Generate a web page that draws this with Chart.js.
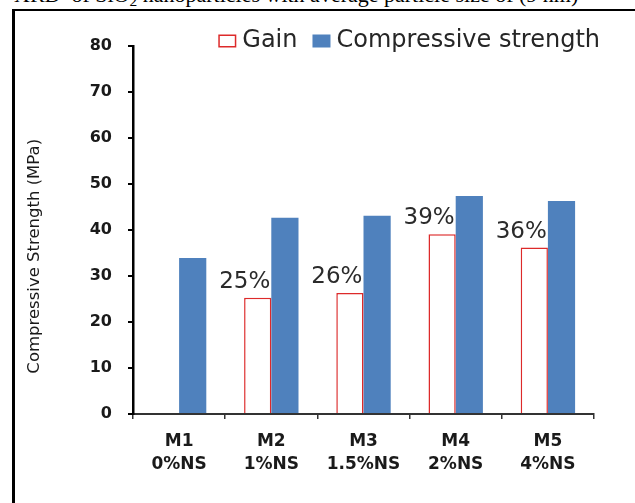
<!DOCTYPE html>
<html>
<head>
<meta charset="utf-8">
<script src="https://cdn.jsdelivr.net/npm/chart.js@4.4.1/dist/chart.umd.min.js"></script>
<style>
  html, body { margin: 0; padding: 0; background: #fff; width: 635px; height: 503px; overflow: hidden; }
  .caption { position: absolute; left: 14px; top: -16px; font: 22px/22px "Liberation Serif", serif; color: #000; white-space: nowrap; }
  .caption .sub { font-size: 0.7em; vertical-align: -0.25em; }
  .frame { position: absolute; left: 12px; top: 9px; width: 700px; height: 600px; border-left: 3px solid #000; border-top: 2px solid #000; }
  #chart { position: absolute; left: 0; top: 0; }
</style>
</head>
<body>
<div class="caption">XRD&nbsp; of SiO<span class="sub">2</span> nanoparticles with average particle size of (9 nm)</div>
<div class="frame"></div>
<canvas id="chart" width="635" height="503"></canvas>
<script>
// values
const categories = [['M1', '0%NS'], ['M2', '1%NS'], ['M3', '1.5%NS'], ['M4', '2%NS'], ['M5', '4%NS']];
const gainPercent = [null, 25.3, 26.3, 39.1, 36.2];
const compressiveStrength = [33.9, 42.7, 43.1, 47.4, 46.3];
const yTicks = [0, 10, 20, 30, 40, 50, 60, 70, 80];

Chart.defaults.font.family = '"DejaVu Sans", sans-serif';

// percent labels over the gain bars, sitting a bit to the left like the original
const gainLabels = {
    id: 'gainLabels',
    afterDatasetsDraw(chart) {
        const ctx = chart.ctx;
        const meta = chart.getDatasetMeta(0);
        ctx.save();
        ctx.font = '23px "DejaVu Sans"';
        ctx.fillStyle = '#2b2b2b';
        ctx.textAlign = 'center';
        ctx.textBaseline = 'middle';
        meta.data.forEach((bar, i) => {
            const v = gainPercent[i];
            if (v == null) return;
            ctx.fillText(Math.round(v) + '%', bar.x - 13, bar.y - 16);
        });
        ctx.restore();
    }
};

// legend drawn inside the plot, top right (built-in one can't overlap the plot area)
const plotLegend = {
    id: 'plotLegend',
    afterDraw(chart) {
        const { ctx, chartArea } = chart;
        const items = chart.data.datasets;
        const boxW = 18, boxH = 13, gap = 6, space = 15;
        ctx.save();
        ctx.font = '24px "DejaVu Sans"';
        ctx.textBaseline = 'middle';
        const widths = items.map(d => boxW + gap + ctx.measureText(d.label).width);
        const total = widths.reduce((a, b) => a + b, 0) + space * (items.length - 1);
        let x = chartArea.right + 6 - total;
        const y = chartArea.top - 5;
        items.forEach((d, i) => {
            ctx.fillStyle = d.backgroundColor;
            ctx.fillRect(x, y - boxH / 2, boxW, boxH);
            if (d.borderWidth) {
                const h = d.borderWidth / 2;
                ctx.strokeStyle = d.borderColor;
                ctx.lineWidth = d.borderWidth;
                ctx.strokeRect(x + h, y - boxH / 2 + h, boxW - d.borderWidth, boxH - d.borderWidth);
            }
            ctx.fillStyle = '#262626';
            ctx.fillText(d.label, x + boxW + gap, y);
            x += widths[i] + space;
        });
        ctx.restore();
    }
};

new Chart(document.getElementById('chart'), {
    type: 'bar',
    data: {
        labels: categories,
        datasets: [{
            label: 'Gain',
            data: gainPercent,
            backgroundColor: '#ffffff',
            borderColor: '#dd2a2a',
            borderWidth: 1.5
        }, {
            label: 'Compressive strength',
            data: compressiveStrength,
            backgroundColor: '#4f81bd',
            borderWidth: 0
        }]
    },
    options: {
        responsive: false,
        animation: false,
        devicePixelRatio: 1,
        layout: { padding: { left: 25, right: 41, top: 46, bottom: 16 } },
        datasets: { bar: { barPercentage: 1, categoryPercentage: 0.59 } },
        plugins: {
            legend: { display: false },
            tooltip: { enabled: false }
        },
        scales: {
            x: {
                grid: { offset: true, drawOnChartArea: false, drawTicks: true, tickLength: 5, color: '#333', lineWidth: 1.5 },
                border: { display: true, color: '#333', width: 2 },
                ticks: {
                    color: '#1a1a1a',
                    padding: 11,
                    font: { size: 17, weight: 'bold', lineHeight: 1.35 }
                }
            },
            y: {
                min: yTicks[0],
                max: yTicks[yTicks.length - 1],
                afterFit(scale) { scale.width = 108; },
                grid: { drawOnChartArea: false, drawTicks: true, tickLength: 5, color: '#000', lineWidth: 2 },
                border: { display: true, color: '#000', width: 2.5 },
                ticks: {
                    stepSize: yTicks[1] - yTicks[0],
                    color: '#1a1a1a',
                    padding: 16,
                    font: { size: 16, weight: 'bold' }
                },
                title: {
                    display: true,
                    // trailing spaces push the visible text down, as in the original
                    text: 'Compressive Strength (MPa)' + '\u00a0'.repeat(10),
                    color: '#1a1a1a',
                    font: { size: 16.5 },
                    padding: { top: 0, bottom: 45 }
                }
            }
        }
    },
    plugins: [gainLabels, plotLegend]
});
</script>
</body>
</html>
